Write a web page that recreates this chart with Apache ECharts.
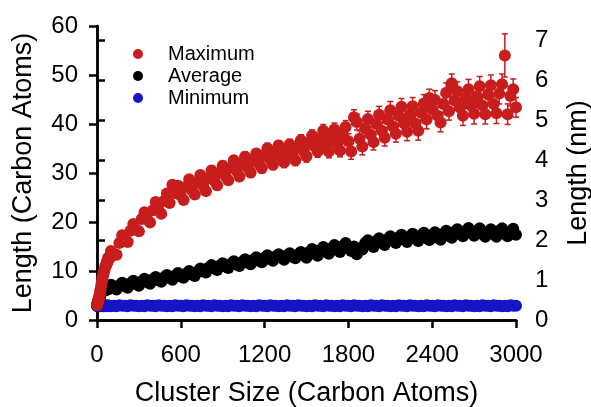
<!DOCTYPE html>
<html>
<head>
<meta charset="utf-8">
<script src="https://cdn.jsdelivr.net/npm/echarts@6/dist/echarts.min.js"></script>
<style>
  html, body { margin: 0; padding: 0; background: #fff; }
  #chart { width: 591px; height: 407px; }
</style>
</head>
<body>
<div id="chart"></div>
<script>
// cluster size (carbon atoms)
const sizes = [1, 2, 3, 4, 5, 6, 7, 8, 9, 10, 12, 14, 16, 18, 20, 23, 26, 30, 35, 40, 45, 50, 55, 60, 65, 70, 75, 80, 90,
  100, 120, 140, 160, 180, 200, 220, 240, 260, 280,
  300, 320, 340, 360, 380, 400, 420, 440, 460, 480, 500, 520, 540, 560, 580,
  600, 620, 640, 660, 680, 700, 720, 740, 760, 780, 800, 820, 840, 860, 880, 900, 920, 940, 960, 980,
  1000, 1020, 1040, 1060, 1080, 1100, 1120, 1140, 1160, 1180,
  1200, 1220, 1240, 1260, 1280, 1300, 1320, 1340, 1360, 1380, 1400, 1420, 1440, 1460, 1480, 1500, 1520, 1540, 1560, 1580,
  1600, 1620, 1640, 1660, 1680, 1700, 1720, 1740, 1760, 1780,
  1800, 1820, 1840, 1860, 1880, 1900, 1920, 1940, 1960, 1980, 2000, 2020, 2040, 2060, 2080, 2100, 2120, 2140, 2160, 2180,
  2200, 2220, 2240, 2260, 2280, 2300, 2320, 2340, 2360, 2380, 2400, 2420, 2440, 2460, 2480, 2500, 2520, 2540, 2560, 2580,
  2600, 2620, 2640, 2660, 2680, 2700, 2720, 2740, 2760, 2780, 2800, 2820, 2840, 2860, 2880, 2900, 2920, 2940, 2960, 2980, 3000]

// maximum length (carbon atoms)
const maxLen = [3.0, 3.1, 3.3, 3.4, 3.5, 3.7, 3.7, 3.9, 3.9, 4.1, 4.1, 4.5, 4.6, 5.1, 5.2, 5.9, 6.2, 7.1, 7.9, 8.7, 9.3, 9.9, 10.3, 11.0, 11.1, 11.9, 11.8, 12.7, 12.6,
  14.1, 13.4, 13.3, 15.7, 17.3, 16.2, 15.9, 18.2, 19.6, 18.5,
  18.1, 20.6, 22.0, 20.5, 19.9, 22.4, 24.1, 22.4, 21.7, 24.3, 25.8, 23.9, 27.6, 25.9, 27.4,
  25.4, 24.5, 27.2, 28.7, 26.5, 25.6, 28.2, 29.6, 27.4, 26.3, 29.0, 30.5, 28.4, 27.5, 30.1, 31.5, 29.4, 28.5, 31.1, 32.6,
  30.4, 29.3, 31.9, 33.3, 31.1, 30.1, 32.6, 34.0, 31.9, 31.0,
  33.6, 35.0, 32.8, 31.7, 34.3, 35.6, 33.3, 32.2, 34.6, 35.8, 33.6, 32.6, 35.3, 36.7, 34.5, 33.4, 36.1, 37.6, 35.4, 34.4,
  37.0, 38.6, 35.8, 34.4, 37.4, 38.9, 36.0, 34.6, 37.7, 39.4,
  36.5, 34.4, 41.4, 40.4, 37.0, 35.4, 39.1, 41.0, 37.8, 36.3, 40.0, 41.9, 38.6, 37.2, 40.9, 42.8, 39.5, 38.0, 41.7, 43.5,
  40.1, 38.4, 41.9, 43.6, 40.1, 38.6, 42.3, 44.2, 40.9, 45.3, 43.0, 44.9, 41.7, 40.3, 44.1, 46.4, 42.6, 48.3, 44.8, 46.7,
  43.3, 41.7, 45.3, 47.1, 43.7, 42.1, 45.6, 47.7, 43.8, 42.0, 46.0, 47.9, 44.1, 42.2, 46.2, 48.1, 54.0, 42.0, 45.7, 47.1, 43.4]

// error bar on maximum (carbon atoms)
const maxErr = [0.2, 0.2, 0.2, 0.2, 0.2, 0.2, 0.2, 0.2, 0.2, 0.2, 0.2, 0.2, 0.2, 0.2, 0.2, 0.2, 0.2, 0.2, 0.2, 0.2, 0.2, 0.2, 0.2, 0.2, 0.2, 0.2, 0.2, 0.2, 0.2,
  0.4, 0.4, 0.4, 0.4, 0.4, 0.4, 0.5, 0.4, 0.5, 0.5,
  0.5, 0.6, 0.6, 0.5, 0.6, 0.6, 0.6, 0.6, 0.7, 0.6, 0.7, 0.6, 0.7, 0.7, 0.7,
  0.7, 0.8, 0.7, 0.8, 0.8, 0.8, 0.7, 0.8, 0.8, 0.8, 0.8, 0.9, 0.8, 0.9, 0.8, 0.9, 0.9, 0.8, 0.9, 0.9,
  0.9, 1.0, 0.9, 1.0, 0.9, 1.0, 1.0, 0.9, 1.0, 1.0,
  1.0, 1.1, 1.0, 1.0, 1.1, 1.0, 1.1, 1.1, 1.0, 1.1, 1.1, 1.1, 1.2, 1.1, 1.2, 1.2, 1.1, 1.2, 1.2, 1.2,
  1.2, 1.3, 1.2, 1.3, 1.3, 1.3, 1.2, 1.3, 1.4, 1.3,
  1.5, 1.6, 1.5, 1.6, 1.6, 1.7, 1.5, 1.6, 1.7, 1.6, 1.6, 1.7, 1.6, 1.7, 1.7, 1.8, 1.6, 1.7, 1.8, 1.7,
  1.7, 1.8, 1.7, 1.8, 1.8, 1.9, 1.7, 1.8, 1.9, 1.8, 1.8, 1.9, 1.8, 1.9, 1.9, 2.0, 1.8, 1.9, 2.0, 1.9,
  1.9, 2.0, 1.9, 2.0, 2.0, 2.1, 1.9, 2.0, 2.1, 2.0, 2.0, 2.1, 2.0, 2.1, 2.1, 2.1, 4.4, 2.1, 2.0, 2.1, 2.0]

// average length (carbon atoms)
const avgLen = [3.0, 3.1, 3.2, 3.3, 3.4, 3.5, 3.6, 3.7, 3.8, 3.9, 4.0, 4.2, 4.3, 4.5, 4.6, 4.9, 5.2, 5.5, 5.7, 5.9, 6.0, 6.1, 6.0, 6.3, 6.1, 6.4, 6.2, 6.6, 6.4,
  7.2, 6.5, 6.2, 7.1, 7.6, 6.9, 6.6, 7.5, 8.0, 7.3,
  7.0, 7.9, 8.4, 7.7, 7.4, 8.3, 8.8, 8.1, 7.8, 8.7, 9.2, 8.5, 8.2, 9.1, 9.6,
  8.9, 8.6, 9.5, 10.0, 9.3, 9.0, 9.9, 10.5, 9.9, 9.7, 10.7, 11.2, 10.5, 10.2, 11.1, 11.6, 10.9, 10.6, 11.5, 12.0,
  11.3, 11.0, 11.9, 12.4, 11.7, 11.4, 12.3, 12.8, 12.1, 11.8,
  12.7, 13.2, 12.4, 12.1, 13.0, 13.4, 12.7, 12.3, 13.2, 13.6, 12.9, 12.6, 13.4, 13.9, 13.2, 12.7, 13.9, 14.5, 13.5, 13.1,
  14.3, 14.9, 13.9, 13.5, 14.7, 15.3, 14.3, 13.9, 15.1, 15.7,
  14.6, 14.1, 15.0, 13.4, 14.6, 14.4, 15.7, 16.3, 15.3, 14.9, 16.1, 16.7, 15.7, 15.3, 16.5, 17.1, 16.1, 15.7, 16.9, 17.4,
  16.4, 15.9, 17.1, 17.6, 16.6, 16.1, 17.3, 17.8, 16.7, 16.3, 17.4, 17.9, 16.8, 16.4, 17.6, 18.2, 17.2, 16.8, 18.0, 18.5,
  17.5, 17.1, 18.2, 18.8, 17.7, 17.2, 18.2, 18.7, 17.5, 17.0, 18.0, 18.5, 17.5, 17.0, 18.2, 18.7, 17.6, 17.1, 18.1, 18.6, 17.4]

// minimum length (carbon atoms)
const minLen = [2.9, 2.8, 3.0, 2.9, 2.9, 2.8, 3.0, 2.9, 2.9, 2.8, 2.9, 2.8, 3.0, 2.9, 2.9, 2.8, 3.0, 2.9, 2.9, 2.8, 2.9, 2.8, 3.0, 2.9, 2.9, 2.8, 3.0, 2.9, 2.9,
  2.8, 2.9, 2.8, 3.0, 2.9, 2.9, 2.8, 3.0, 2.9, 2.9,
  2.8, 2.9, 2.8, 3.0, 2.9, 2.9, 2.8, 3.0, 2.9, 2.9, 2.8, 2.9, 2.8, 3.0, 2.9,
  2.9, 2.8, 3.0, 2.9, 2.9, 2.8, 2.9, 2.8, 3.0, 2.9, 2.9, 2.8, 3.0, 2.9, 2.9, 2.8, 2.9, 2.8, 3.0, 2.9,
  2.9, 2.8, 3.0, 2.9, 2.9, 2.8, 2.9, 2.8, 3.0, 2.9,
  2.9, 2.8, 3.0, 2.9, 2.9, 2.8, 2.9, 2.8, 3.0, 2.9, 2.9, 2.8, 3.0, 2.9, 2.9, 2.8, 2.9, 2.8, 3.0, 2.9,
  2.9, 2.8, 3.0, 2.9, 2.9, 2.8, 2.9, 2.8, 3.0, 2.9,
  2.9, 2.8, 3.0, 2.9, 2.9, 2.8, 2.9, 2.8, 3.0, 2.9, 2.9, 2.8, 3.0, 2.9, 2.9, 2.8, 2.9, 2.8, 3.0, 2.9,
  2.9, 2.8, 3.0, 2.9, 2.9, 2.8, 2.9, 2.8, 3.0, 2.9, 2.9, 2.8, 3.0, 2.9, 2.9, 2.8, 2.9, 2.8, 3.0, 2.9,
  2.9, 2.8, 3.0, 2.9, 2.9, 2.8, 2.9, 2.8, 3.0, 2.9, 2.9, 2.8, 3.0, 2.9, 2.9, 2.8, 2.9, 2.8, 3.0, 2.9, 2.9]

const xTicks = [0, 600, 1200, 1800, 2400, 3000]
const leftTicks = [0, 10, 20, 30, 40, 50, 60]
const nmTicks = [0, 1, 2, 3, 4, 5, 6, 7]

const font = 'Liberation Sans'
const red = '#c81d1d'
const blue = '#1515c6'

const chart = echarts.init(document.getElementById('chart'))

const axisLine = { show: true, lineStyle: { color: '#000', width: 2.5 } }
const axisTick = { show: true, inside: false, length: 8, lineStyle: { color: '#000', width: 2.5 } }
const tickFont = { fontFamily: font, fontSize: 24, color: '#000' }
const titleFont = { fontFamily: font, fontSize: 27, color: '#000' }

const option = {
  animation: false,
  textStyle: { fontFamily: font },
  grid: { left: 97, right: 75, top: 26, bottom: 87, outerBoundsMode: 'none' },
  legend: {
    orient: 'vertical',
    left: 128,
    top: 39,
    icon: 'circle',
    itemWidth: 10,
    itemHeight: 10,
    itemGap: 2,
    data: ['Maximum', 'Average', 'Minimum'],
    textStyle: { fontFamily: font, fontSize: 20, color: '#000', padding: [0, 0, 0, 20] }
  },
  xAxis: [
    {
      type: 'value',
      min: 0,
      max: 3000,
      interval: 600,
      name: 'Cluster Size (Carbon Atoms)',
      nameLocation: 'middle',
      nameGap: 60,
      nameTextStyle: titleFont,
      axisLine: axisLine,
      axisTick: { ...axisTick, customValues: xTicks },
      axisLabel: { ...tickFont, customValues: xTicks, margin: 23, formatter: v => String(v) },
      splitLine: { show: false }
    },
    {
      type: 'value',
      position: 'top',
      min: 0,
      max: 3000,
      axisLine: axisLine,
      axisTick: { show: false },
      axisLabel: { show: false },
      splitLine: { show: false }
    }
  ],
  yAxis: [
    {
      type: 'value',
      min: 0,
      max: 60,
      interval: 10,
      name: 'Length (Carbon Atoms)',
      nameLocation: 'middle',
      nameGap: 60,
      nameRotate: 90,
      nameTextStyle: titleFont,
      axisLine: axisLine,
      axisTick: { ...axisTick, customValues: leftTicks },
      axisLabel: { ...tickFont, customValues: leftTicks, margin: 19 },
      splitLine: { show: false }
    },
    {
      type: 'value',
      position: 'right',
      min: 0,
      max: 7.35,
      name: 'Length (nm)',
      nameLocation: 'middle',
      nameGap: 49,
      nameRotate: 90,
      nameTextStyle: titleFont,
      axisLine: axisLine,
      axisTick: { ...axisTick, customValues: nmTicks },
      axisLabel: { ...tickFont, customValues: nmTicks, margin: 19 },
      splitLine: { show: false }
    }
  ],
  series: [
    {
      name: 'Minimum',
      type: 'scatter',
      symbol: 'circle',
      symbolSize: 12,
      itemStyle: { color: blue, opacity: 1 },
      data: sizes.map((x, i) => [x, minLen[i]])
    },
    {
      name: 'Average',
      type: 'scatter',
      symbol: 'circle',
      symbolSize: 12,
      itemStyle: { color: '#000', opacity: 1 },
      data: sizes.map((x, i) => [x, avgLen[i]])
    },
    {
      // error bars of the maximum series
      name: 'Maximum error',
      type: 'custom',
      data: sizes.map((x, i) => [x, maxLen[i] - maxErr[i], maxLen[i] + maxErr[i]]),
      encode: { x: 0, y: [1, 2] },
      renderItem: (params, api) => {
        const x = api.value(0)
        const lo = api.coord([x, api.value(1)])
        const hi = api.coord([x, api.value(2)])
        const style = { stroke: red, lineWidth: 1.5 }
        const w = 3
        return {
          type: 'group',
          children: [
            { type: 'line', shape: { x1: lo[0], y1: lo[1], x2: hi[0], y2: hi[1] }, style: style },
            { type: 'line', shape: { x1: hi[0] - w, y1: hi[1], x2: hi[0] + w, y2: hi[1] }, style: style },
            { type: 'line', shape: { x1: lo[0] - w, y1: lo[1], x2: lo[0] + w, y2: lo[1] }, style: style }
          ]
        }
      }
    },
    {
      name: 'Maximum',
      type: 'scatter',
      symbol: 'circle',
      symbolSize: 12,
      itemStyle: { color: red, opacity: 1 },
      data: sizes.map((x, i) => [x, maxLen[i]])
    }
  ]
}

chart.setOption(option)
</script>
</body>
</html>
